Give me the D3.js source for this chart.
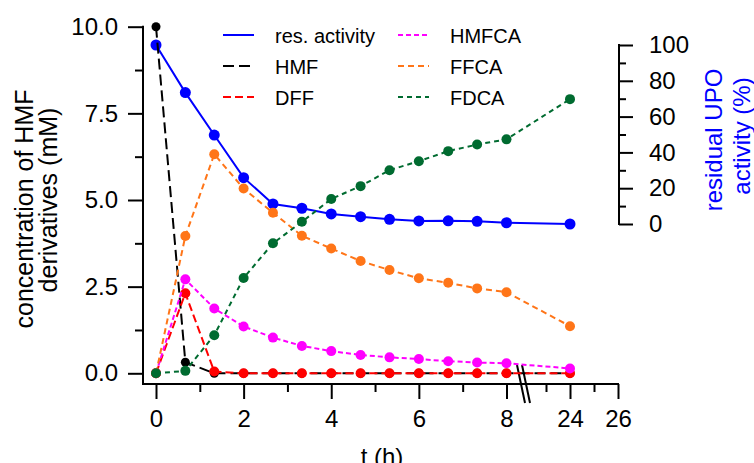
<!DOCTYPE html>
<html>
<head>
<meta charset="utf-8">
<script src="https://cdn.jsdelivr.net/npm/d3@7"></script>
<style>
  body { margin: 0; background: #fff; }
  svg text { font-family: "Liberation Sans", Arial, Helvetica, sans-serif; }
</style>
</head>
<body>
<div id="chart"></div>
<script>
// sampling times (h)
var times = [0, 0.67, 1.33, 2, 2.67, 3.33, 4, 4.67, 5.33, 6, 6.67, 7.33, 8, 24];

// residual UPO activity (%), right axis
var resActivity = [100, 73.4, 49.7, 25.9, 11.2, 8.8, 5.6, 4.1, 2.6, 1.7, 1.8, 1.5, 0.7, 0];

// concentrations (mM), left axis
var hmf   = [10, 0.32, 0, 0, 0, 0, 0, 0, 0, 0, 0, 0, 0, 0];
var dff   = [0, 2.31, 0.05, 0, 0, 0, 0, 0, 0, 0, 0, 0, 0, 0];
var hmfca = [0, 2.71, 1.87, 1.35, 1.03, 0.79, 0.64, 0.53, 0.46, 0.41, 0.35, 0.31, 0.29, 0.14];
var ffca  = [0, 3.96, 6.32, 5.33, 4.63, 3.97, 3.6, 3.24, 2.98, 2.74, 2.61, 2.45, 2.34, 1.36];
var fdca  = [0, 0.07, 1.1, 2.75, 3.75, 4.37, 5.03, 5.4, 5.86, 6.12, 6.41, 6.6, 6.75, 7.91];

var seriesNames = ["res. activity", "HMF", "DFF", "HMFCA", "FFCA", "FDCA"];

// tick labels
var xTicksLeft = [0, 2, 4, 6, 8];
var xMinorLeft = [1, 3, 5, 7];
var xTicksRight = [24, 26];
var xMinorRight = [23, 25];
var yLeftTicks = [0, 2.5, 5, 7.5, 10];
var yLeftMinor = [1.25, 3.75, 6.25, 8.75];
var yRightTicks = [0, 20, 40, 60, 80, 100];
var yRightMinor = [10, 30, 50, 70, 90];

var width = 754, height = 463;

var svg = d3.select("#chart")
  .append("svg")
    .attr("width", width)
    .attr("height", height);

// broken x axis: two linear pieces
var x1 = d3.scaleLinear().domain([0, 8.4]).range([156, 524]);
var x2 = d3.scaleLinear().domain([22.5, 26]).range([534, 618]);
function xPos(t) { return t <= 8.4 ? x1(t) : x2(t); }

var yL = d3.scaleLinear().domain([0, 10]).range([373.3, 26.7]);
var yR = d3.scaleLinear().domain([0, 100]).range([224, 45]);

var axisY = 384, axisLeftX = 143, axisRightX = 619;

function styleAxis(g) {
  g.attr("font-size", 24)
   .attr("font-family", "'Liberation Sans', Arial, sans-serif");
  g.selectAll(".tick line").attr("stroke", "#000").attr("stroke-width", 2);
  g.selectAll(".tick text").attr("fill", "#000");
  g.select(".domain").remove();
}

// x axis line
svg.append("line")
  .attr("x1", axisLeftX).attr("x2", 618)
  .attr("y1", axisY).attr("y2", axisY)
  .attr("stroke", "#000").attr("stroke-width", 2)
  .attr("stroke-linecap", "square");

// x ticks
svg.append("g")
  .attr("transform", "translate(0," + axisY + ")")
  .call(d3.axisBottom(x1).tickValues(xTicksLeft).tickFormat(d3.format("d")).tickSize(15).tickPadding(11))
  .call(styleAxis);
svg.append("g")
  .attr("transform", "translate(0," + axisY + ")")
  .call(d3.axisBottom(x1).tickValues(xMinorLeft).tickSize(8).tickFormat(""))
  .call(styleAxis);
svg.append("g")
  .attr("transform", "translate(0," + axisY + ")")
  .call(d3.axisBottom(x2).tickValues(xTicksRight).tickFormat(d3.format("d")).tickSize(15).tickPadding(11))
  .call(styleAxis);
svg.append("g")
  .attr("transform", "translate(0," + axisY + ")")
  .call(d3.axisBottom(x2).tickValues(xMinorRight).tickSize(8).tickFormat(""))
  .call(styleAxis);

// left axis
svg.append("line")
  .attr("x1", axisLeftX).attr("x2", axisLeftX)
  .attr("y1", yL(10)).attr("y2", axisY)
  .attr("stroke", "#000").attr("stroke-width", 2)
  .attr("stroke-linecap", "square");
svg.append("g")
  .attr("transform", "translate(" + axisLeftX + ",0)")
  .call(d3.axisLeft(yL).tickValues(yLeftTicks).tickFormat(d3.format(".1f")).tickSize(15).tickPadding(10))
  .call(styleAxis);
svg.append("g")
  .attr("transform", "translate(" + axisLeftX + ",0)")
  .call(d3.axisLeft(yL).tickValues(yLeftMinor).tickSize(8).tickFormat(""))
  .call(styleAxis);

// right axis
svg.append("line")
  .attr("x1", axisRightX).attr("x2", axisRightX)
  .attr("y1", yR(100)).attr("y2", yR(0))
  .attr("stroke", "#000").attr("stroke-width", 2)
  .attr("stroke-linecap", "square");
svg.append("g")
  .attr("transform", "translate(" + axisRightX + ",0)")
  .call(d3.axisRight(yR).tickValues(yRightTicks).tickSize(14).tickPadding(16))
  .call(styleAxis);
svg.append("g")
  .attr("transform", "translate(" + axisRightX + ",0)")
  .call(d3.axisRight(yR).tickValues(yRightMinor).tickSize(7).tickFormat(""))
  .call(styleAxis);

// axis break marks
var breakX = 521;
[0, 5].forEach(function(off) {
  svg.append("line")
    .attr("x1", breakX - 4 + off).attr("y1", 365)
    .attr("x2", breakX + 4 + off).attr("y2", 403)
    .attr("stroke", "#000").attr("stroke-width", 2);
});

// axis titles
svg.append("text")
  .attr("transform", "translate(33,209) rotate(-90)")
  .attr("text-anchor", "middle").attr("font-size", 25)
  .text("concentration of HMF");
svg.append("text")
  .attr("transform", "translate(57,200) rotate(-90)")
  .attr("text-anchor", "middle").attr("font-size", 25)
  .text("derivatives (mM)");
svg.append("text")
  .attr("transform", "translate(722,140) rotate(-90)")
  .attr("text-anchor", "middle").attr("font-size", 24).attr("fill", "#0000ff")
  .text("residual UPO");
svg.append("text")
  .attr("transform", "translate(750,136) rotate(-90)")
  .attr("text-anchor", "middle").attr("font-size", 24).attr("fill", "#0000ff")
  .text("activity (%)");
svg.append("text")
  .attr("x", 382).attr("y", 465)
  .attr("text-anchor", "middle").attr("font-size", 24)
  .text("t (h)");

// series
var series = [
  {name: seriesNames[0], values: resActivity, y: yR, color: "#0000ff", dash: null, r: 5.5},
  {name: seriesNames[1], values: hmf, y: yL, color: "#000000", dash: "11,5", r: 4.5},
  {name: seriesNames[2], values: dff, y: yL, color: "#ff0000", dash: "8,4", r: 5},
  {name: seriesNames[3], values: hmfca, y: yL, color: "#ff00ff", dash: "5,3", r: 5},
  {name: seriesNames[4], values: ffca, y: yL, color: "#ff7518", dash: "6,4", r: 5},
  {name: seriesNames[5], values: fdca, y: yL, color: "#006b30", dash: "5,4", r: 5}
];

series.forEach(function(s) {
  var pts = times.map(function(t, i) { return {t: t, v: s.values[i]}; });
  var line = d3.line()
    .x(function(d) { return xPos(d.t); })
    .y(function(d) { return s.y(d.v); });

  svg.append("path")
    .datum(pts)
    .attr("fill", "none")
    .attr("stroke", s.color)
    .attr("stroke-width", 2)
    .attr("stroke-dasharray", s.dash)
    .attr("d", line);

  svg.selectAll(null)
    .data(pts)
    .enter()
    .append("circle")
      .attr("cx", function(d) { return xPos(d.t); })
      .attr("cy", function(d) { return s.y(d.v); })
      .attr("r", s.r)
      .attr("fill", s.color);
});

// legend, two columns of three
var legend = svg.append("g");
series.forEach(function(s, i) {
  var col = i < 3 ? 0 : 1, row = i % 3;
  var lx = col === 0 ? 223 : 398;
  var ly = 35 + row * 31;
  legend.append("line")
    .attr("x1", lx).attr("x2", lx + 31)
    .attr("y1", ly).attr("y2", ly)
    .attr("stroke", s.color)
    .attr("stroke-width", 2)
    .attr("stroke-dasharray", s.dash);
  legend.append("text")
    .attr("x", lx + 52).attr("y", ly + 8)
    .attr("font-size", 20)
    .text(s.name);
});
</script>
</body>
</html>
